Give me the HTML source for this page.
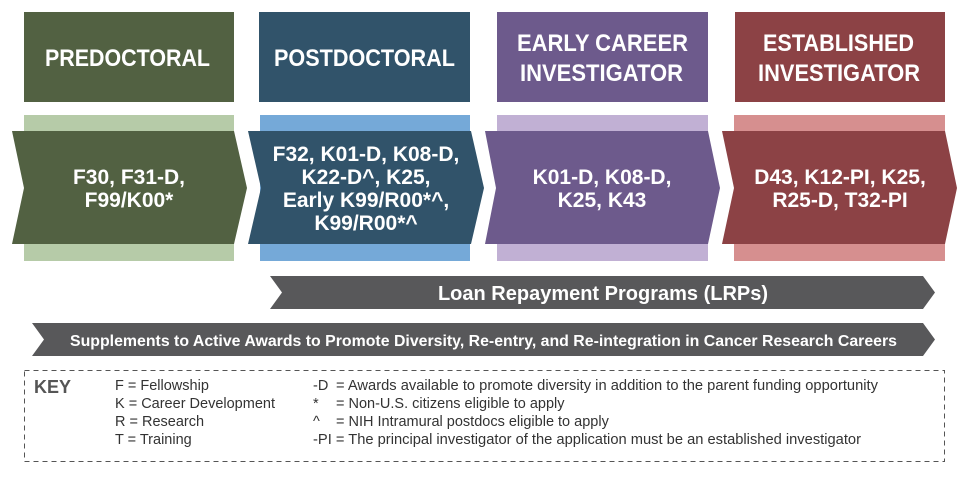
<!DOCTYPE html>
<html><head><meta charset="utf-8"><style>
html,body{margin:0;padding:0;background:#fff;}
svg{display:block;font-family:"Liberation Sans",Arial,sans-serif;}
</style></head><body>
<svg width="970" height="480" viewBox="0 0 970 480">
<!-- headers -->
<rect x="24" y="12" width="210" height="90" fill="#526142"/>
<rect x="259" y="12" width="211" height="90" fill="#31536a"/>
<rect x="497" y="12" width="211" height="90" fill="#6d5a8c"/>
<rect x="735" y="12" width="210" height="90" fill="#8c4245"/>
<g fill="#fff" font-weight="bold" font-size="24" lengthAdjust="spacingAndGlyphs">
<text x="45" y="66" textLength="165" lengthAdjust="spacingAndGlyphs">PREDOCTORAL</text>
<text x="274" y="66" textLength="181" lengthAdjust="spacingAndGlyphs">POSTDOCTORAL</text>
<text x="517" y="51" textLength="171" lengthAdjust="spacingAndGlyphs">EARLY CAREER</text>
<text x="520" y="81" textLength="163" lengthAdjust="spacingAndGlyphs">INVESTIGATOR</text>
<text x="763" y="51" textLength="151" lengthAdjust="spacingAndGlyphs">ESTABLISHED</text>
<text x="758" y="81" textLength="162" lengthAdjust="spacingAndGlyphs">INVESTIGATOR</text>
</g>
<!-- light bars -->
<rect x="24" y="115" width="210" height="146" fill="#b6cba8"/>
<rect x="260" y="115" width="210" height="146" fill="#75a9d8"/>
<rect x="497" y="115" width="211" height="146" fill="#c1b0d4"/>
<rect x="734" y="115" width="211" height="146" fill="#d68f8f"/>
<!-- chevrons -->
<polygon points="12,131 234,131 247,188 234,244 12,244 24,188" fill="#526142"/>
<polygon points="248,131 471,131 484,188 471,244 248,244 261,188" fill="#31536a"/>
<polygon points="485,131 708,131 720,188 708,244 485,244 496,188" fill="#6d5a8c"/>
<polygon points="722,131 945,131 957,188 945,244 722,244 734,188" fill="#8c4245"/>
<g fill="#fff" font-weight="bold" font-size="21" text-anchor="middle">
<text x="129" y="184">F30, F31-D,</text>
<text x="129" y="207">F99/K00*</text>
<text x="366" y="161">F32, K01-D, K08-D,</text>
<text x="366" y="184">K22-D^, K25,</text>
<text x="366" y="207">Early K99/R00*^,</text>
<text x="366" y="230">K99/R00*^</text>
<text x="602" y="184">K01-D, K08-D,</text>
<text x="602" y="207">K25, K43</text>
<text x="840" y="184">D43, K12-PI, K25,</text>
<text x="840" y="207">R25-D, T32-PI</text>
</g>
<!-- bands -->
<polygon points="270,276 923,276 935,292.5 923,309 270,309 282,292.5" fill="#58585a"/>
<text x="603" y="300" fill="#fff" font-weight="bold" font-size="20" text-anchor="middle">Loan Repayment Programs (LRPs)</text>
<polygon points="32,323 923,323 935,339.5 923,356 32,356 44,339.5" fill="#58585a"/>
<text x="70" y="346" fill="#fff" font-weight="bold" font-size="16" textLength="827" lengthAdjust="spacingAndGlyphs">Supplements to Active Awards to Promote Diversity, Re-entry, and Re-integration in Cancer Research Careers</text>
<!-- key -->
<rect x="24.5" y="370.5" width="920" height="91" fill="none" stroke="#555" stroke-width="1" stroke-dasharray="5,4"/>
<text x="34" y="393" font-size="18" font-weight="bold" fill="#555">KEY</text>
<g font-size="14.5" fill="#333">
<text x="115" y="390">F = Fellowship</text>
<text x="115" y="408">K = Career Development</text>
<text x="115" y="426">R = Research</text>
<text x="115" y="444">T = Training</text>
<text x="313" y="390">-D</text><text x="336" y="390" textLength="542" lengthAdjust="spacingAndGlyphs">= Awards available to promote diversity in addition to the parent funding opportunity</text>
<text x="313" y="408">*</text><text x="336" y="408">= Non-U.S. citizens eligible to apply</text>
<text x="313" y="426">^</text><text x="336" y="426">= NIH Intramural postdocs eligible to apply</text>
<text x="313" y="444" textLength="548" lengthAdjust="spacingAndGlyphs">-PI = The principal investigator of the application must be an established investigator</text>
</g>
</svg>
</body></html>
